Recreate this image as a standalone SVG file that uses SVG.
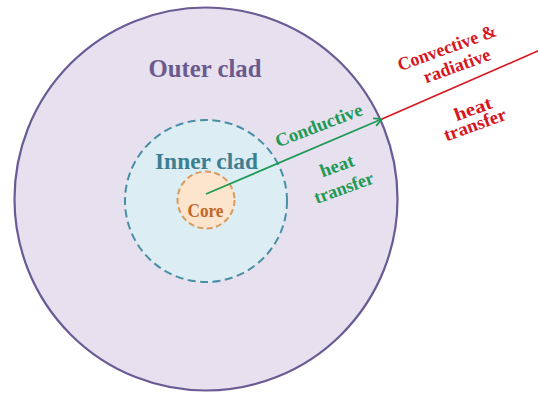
<svg xmlns="http://www.w3.org/2000/svg" width="538" height="393" viewBox="0 0 538 393">
  <style>
    text { font-family: "Liberation Serif", "Times New Roman", serif; font-weight: bold; text-anchor: middle; }
    .green { fill: #1f9a55; }
    .red { fill: #d7161f; }
  </style>
  <defs>
    <marker id="arrowG" viewBox="0 0 10 10" refX="9" refY="5" markerWidth="10" markerHeight="10" markerUnits="userSpaceOnUse" orient="auto">
      <path d="M1,1 L9,5 L1,9" fill="none" stroke="#1f9a55" stroke-width="1.8"/>
    </marker>
  </defs>
  <rect width="538" height="393" fill="#ffffff"/>
  <g id="outer-clad">
    <circle cx="206" cy="199" r="191.5" fill="#e6e0ef" stroke="#6b5b95" stroke-width="2.2"/>
    <text x="205" y="77" font-size="25" fill="#6a5a8e" textLength="113" lengthAdjust="spacingAndGlyphs">Outer clad</text>
  </g>
  <g id="inner-clad">
    <circle cx="206" cy="201" r="81" fill="#dcedf4" stroke="#4a8fa6" stroke-width="2" stroke-dasharray="8,4.5"/>
    <text x="206.5" y="169" font-size="23" fill="#3d7f91" textLength="103" lengthAdjust="spacingAndGlyphs">Inner clad</text>
  </g>
  <g id="core">
    <circle cx="206" cy="200" r="28.5" fill="#fde4cd" stroke="#d99a5e" stroke-width="2" stroke-dasharray="6,3.5"/>
    <text x="205.5" y="216.5" font-size="19" fill="#c0672a" textLength="36" lengthAdjust="spacingAndGlyphs">Core</text>
  </g>
  <g id="connectors">
    <line x1="206" y1="194" x2="382" y2="119" stroke="#1f9a55" stroke-width="1.8" marker-end="url(#arrowG)"/>
    <line x1="382" y1="119" x2="539" y2="50.5" stroke="#d7161f" stroke-width="1.6"/>
  </g>
  <g id="labels">
    <text class="green" font-size="18.5" transform="translate(321,131) rotate(-21)" textLength="92" lengthAdjust="spacingAndGlyphs">Conductive</text>
    <text class="green" font-size="18.5" transform="translate(339,171.5) rotate(-20)" textLength="35" lengthAdjust="spacingAndGlyphs">heat</text>
    <text class="green" font-size="18.5" transform="translate(346,193.5) rotate(-20)" textLength="62" lengthAdjust="spacingAndGlyphs">transfer</text>
    <text class="red" font-size="18.5" transform="translate(449,53.5) rotate(-20)" textLength="104" lengthAdjust="spacingAndGlyphs">Convective &amp;</text>
    <text class="red" font-size="18.5" transform="translate(459,71.5) rotate(-20)" textLength="70" lengthAdjust="spacingAndGlyphs">radiative</text>
    <text class="red" font-size="18.5" transform="translate(475,114.5) rotate(-20)" textLength="39" lengthAdjust="spacingAndGlyphs">heat</text>
    <text class="red" font-size="18.5" transform="translate(477,130.5) rotate(-20)" textLength="65" lengthAdjust="spacingAndGlyphs">transfer</text>
  </g>
</svg>
